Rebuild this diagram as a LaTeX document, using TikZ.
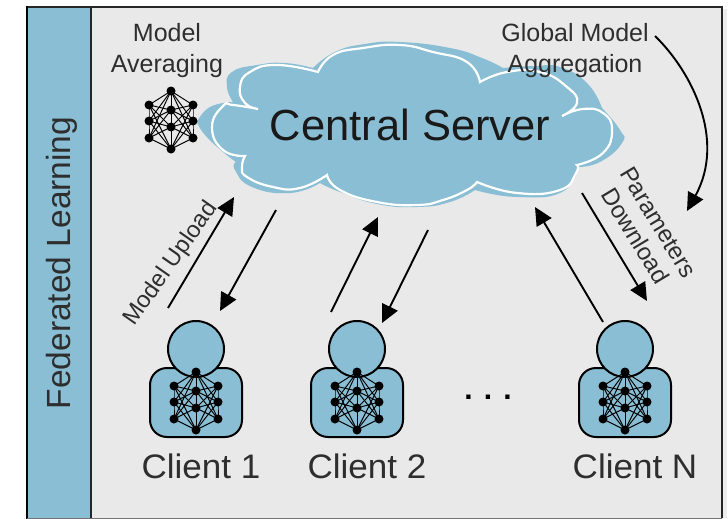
\documentclass[tikz,border=0pt]{standalone}
\usepackage{fontspec}
\setmainfont{Liberation Sans}
\usetikzlibrary{arrows.meta,calc}
\definecolor{cloudblue}{HTML}{89BED4}
\definecolor{panelgray}{HTML}{E9E9E9}
\definecolor{inkgray}{HTML}{2E2E2E}
\tikzset{
  x=1pt,y=-1pt,
  label text/.style={font=\fontsize{25}{31}\selectfont,text=inkgray,align=center,inner sep=0pt},
  client text/.style={font=\fontsize{34}{38}\selectfont,text=inkgray,inner sep=0pt,xscale=1.03},
  flow/.style={line width=1.9pt,black,-{Triangle[length=18pt,width=17pt]}},
  net link/.style={line width=0.95pt,black},
  net dot/.style={circle,fill=black,inner sep=0pt,minimum size=9pt},
  body shape/.style={draw=black,line width=2pt,fill=cloudblue},
  pics/neuralnet/.style={code={
    \foreach \n/\a/\b in {t/0/-30,b/0/28,ma/0/-11,mb/0/6,la/-22/-16,lb/-22/0,lc/-22/17,ra/22/-16,rb/22/0,rc/22/17}{
      \coordinate (-\n) at (\a,\b);
    }
    \foreach \p in {la,lb,lc,ra,rb,rc,ma,mb}{\draw[net link] (-t) -- (-\p);\draw[net link] (-b) -- (-\p);}
    \foreach \p in {la,lb,lc,ra,rb,rc}{\draw[net link] (-ma) -- (-\p);\draw[net link] (-mb) -- (-\p);}
    \draw[net link] (-la) -- (-lb) -- (-lc) (-ra) -- (-rb) -- (-rc) (-ma) -- (-mb);
    \foreach \p in {t,b,ma,mb,la,lb,lc,ra,rb,rc}{\node[net dot] at (-\p) {};}
  }},
  pics/client/.style={code={
    \draw[body shape] (-46,19) [rounded corners=17pt] -- (46,19) -- (46,88) -- (-46,88) -- cycle;
    \draw[body shape] (0,0) circle[radius=28];
    \pic (-net) at (0,53) {neuralnet};
  }},
  lobe/.style={smooth,tension=0.85}
}
\begin{document}
\begin{tikzpicture}
\useasboundingbox (0,0) rectangle (728,519);
\fill[white] (0,0) rectangle (728,519);
\fill[black!7] (723,9) rectangle (727,518);
\fill[panelgray] (92,7) rectangle (722,518);
\fill[cloudblue] (27,7) rectangle (91,518);
\draw[black!85,line width=1.6pt] (722,518) -- (722,7) -- (27,7);
\draw[black,line width=2.6pt] (27,5.7) -- (27,519);
\draw[black!85,line width=1.8pt] (91,7) -- (91,519);
\draw[black!55,line width=1pt] (27,518.5) -- (722,518.5);
% back cloud
\fill[cloudblue] plot[lobe] coordinates {(197,122) (210,107) (233,102)}
  -- plot[lobe] coordinates {(233,102) (227,87) (232,72) (257,65) (285,63) (313,68)}
  -- plot[lobe] coordinates {(313,68) (335,52) (365,44) (400,42) (450,48) (482,58) (503,68)}
  -- plot[lobe] coordinates {(503,68) (535,66) (560,67) (587,83) (602,108)}
  -- plot[lobe] coordinates {(602,108) (620,130) (622,143) (600,162) (577,167)}
  -- plot[lobe] coordinates {(577,167) (562,192) (517,197) (475,190)}
  -- plot[lobe] coordinates {(475,190) (450,202) (417,207) (377,204) (340,192) (320,183)}
  -- plot[lobe] coordinates {(320,183) (290,193) (252,187) (235,170) (236,162)}
  -- plot[lobe] coordinates {(236,162) (223,152) (205,135) (197,122)} -- cycle;
% front cloud: fill then white outline
\draw[white,line width=2.2pt,fill=cloudblue,line join=miter]
     plot[lobe] coordinates {(258,109) (233,105) (223,106) (212,127) (223,150) (245,156)}
  -- plot[lobe] coordinates {(245,156) (242,167) (247,177) (273,187) (300,188) (327,175)}
  -- plot[lobe] coordinates {(327,175) (340,190) (377,202) (417,205) (443,200) (467,190) (477,182)}
  -- plot[lobe] coordinates {(477,182) (517,193) (560,190) (576,173) (577,165)}
  -- plot[lobe] coordinates {(577,165) (603,153) (612,130) (603,113) (583,109) (562,116)}
  -- plot[lobe] coordinates {(562,116) (577,103) (567,87) (540,72) (507,72) (480,82)}
  -- plot[lobe] coordinates {(480,82) (467,62) (433,52) (400,45) (363,48) (333,55) (318,72)}
  -- plot[lobe] coordinates {(318,72) (277,65) (250,72) (240,87) (245,103) (258,109)} -- cycle;
\node[inner sep=0pt,font=\fontsize{43.5}{47}\selectfont,text=black!90] (server) at (410,125) {Central Server};
\node[label text] (avg) at (167,51) {Model\\Averaging};
\node[label text] (agg) at (575,50.5) {Global Model\\Aggregation};
\pic (avgnet) at (171,121) {neuralnet};
\node[rotate=90,inner sep=0pt,font=\fontsize{33.5}{36}\selectfont,text=inkgray] (fl) at (62,263) {Federated Learning};
\pic (c1) at (196,349) {client};
\pic (c2) at (357,349) {client};
\pic (cn) at (625,349) {client};
\node[client text] (l1) at (201,466) {Client 1};
\node[client text] (l2) at (367,466) {Client 2};
\node[client text] (ln) at (635,466) {Client N};
\node[inner sep=0pt,font=\fontsize{30}{34}\selectfont\bfseries] (dots) at (488,397) {. . .};
\node[rotate=-59,inner sep=0pt,align=center,font=\fontsize{24}{27}\selectfont,text=inkgray] (pd) at (647,229) {Parameters\\Download};
\node[rotate=55,inner sep=0pt,font=\fontsize{23.5}{27}\selectfont,text=inkgray] (mu) at (171,264) {Model Upload};
\coordinate (a1s) at (168,308); \coordinate (a1e) at (234,197);
\coordinate (a2s) at (276,210); \coordinate (a2e) at (220,311);
\coordinate (a3s) at (331,312); \coordinate (a3e) at (378,217);
\coordinate (a4s) at (428,230); \coordinate (a4e) at (382,323);
\coordinate (a5s) at (603,322); \coordinate (a5e) at (535,207);
\coordinate (a6s) at (582,193); \coordinate (a6e) at (647,301);
\coordinate (cs) at (655,36); \coordinate (ce) at (687,211);
\draw[flow] (a1s) -- (a1e);
\draw[flow] (a2s) -- (a2e);
\draw[flow] (a3s) -- (a3e);
\draw[flow] (a4s) -- (a4e);
\draw[flow] (a5s) -- (a5e);
\draw[flow] (a6s) -- (a6e);
\draw[flow] (cs) .. controls (692,72) and (726,140) .. (ce);
\end{tikzpicture}
\end{document}
